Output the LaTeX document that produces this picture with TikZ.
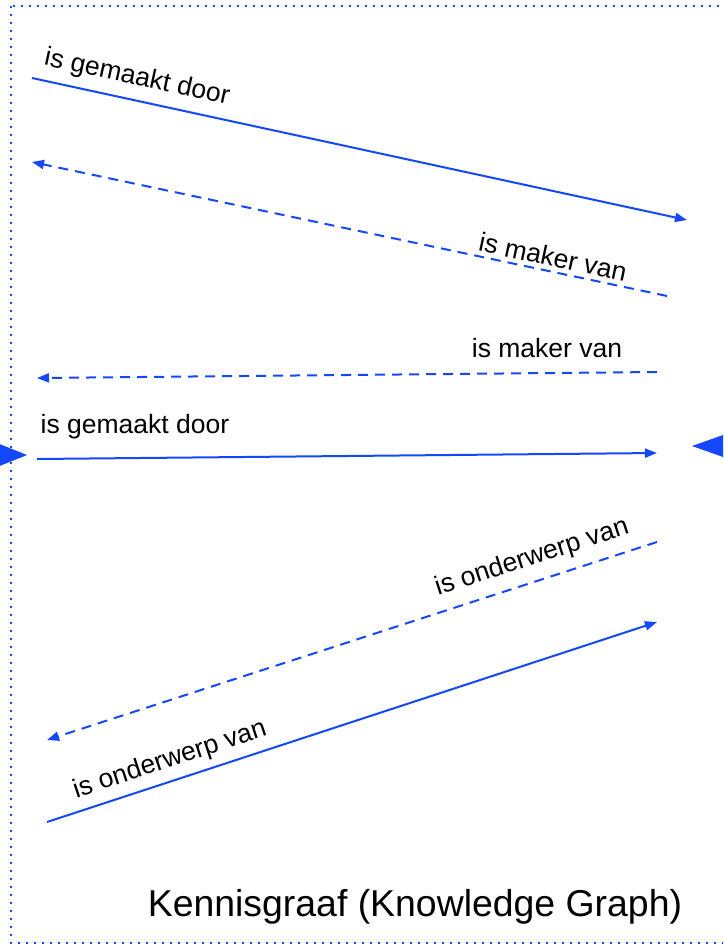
\documentclass[tikz,border=0pt]{standalone}
\usepackage{fontspec}
\setmainfont{Liberation Sans}
\usetikzlibrary{arrows.meta}
\definecolor{kgblue}{RGB}{20,72,255}
\begin{document}
\begin{tikzpicture}[x=1pt,y=-1pt,
  rel/.style={draw=kgblue, line width=2pt, -{Triangle[length=12pt,width=9pt]}},
  inv/.style={rel, dash pattern=on 10pt off 7pt},
  lbl/.style={font=\fontsize{26.5}{30}\selectfont, inner sep=0pt},
  frame/.style={draw=kgblue, line width=2pt, dash pattern=on 2pt off 6pt}]
\useasboundingbox (0,0) rectangle (723,945);
\clip (0,0) rectangle (723,945);
\fill[white] (0,0) rectangle (723,945);
% frame
\draw[frame] (11,6) rectangle (780,943);
% endpoints
\coordinate (a1s) at (32,78);   \coordinate (a1e) at (687,220);
\coordinate (a2s) at (667,296); \coordinate (a2e) at (32,162);
\coordinate (a3s) at (657,372); \coordinate (a3e) at (37,378);
\coordinate (a4s) at (37,459);  \coordinate (a4e) at (657,453);
\coordinate (a5s) at (657,542); \coordinate (a5e) at (47,740);
\coordinate (a6s) at (47,822);  \coordinate (a6e) at (657,622);
% connectors
\draw[rel] (a1s) -- (a1e);
\draw[inv] (a2s) -- (a2e);
\draw[inv] (a3s) -- (a3e);
\draw[rel] (a4s) -- (a4e);
\draw[inv] (a5s) -- (a5e);
\draw[rel] (a6s) -- (a6e);
% labels
\node[lbl, rotate=-12.2] (l1) at (137,78) {is gemaakt door};
\node[lbl, rotate=-12] (l2) at (553,257) {is maker van};
\node[lbl] (l3) at (547,348) {is maker van};
\node[lbl] (l4) at (135,427) {is gemaakt door};
\node[lbl, rotate=18] (l5) at (532,558) {is onderwerp van};
\node[lbl, rotate=18.2] (l6) at (170,760) {is onderwerp van};
% side triangles
\fill[kgblue] (-3,443) -- (27,455) -- (-3,467) -- cycle;
\fill[kgblue] (726,434) -- (692,446) -- (726,458) -- cycle;
% title
\node[font=\fontsize{37.4}{42}\selectfont, inner sep=0pt] (title) at (415,907) {Kennisgraaf (Knowledge Graph)};
\end{tikzpicture}
\end{document}
